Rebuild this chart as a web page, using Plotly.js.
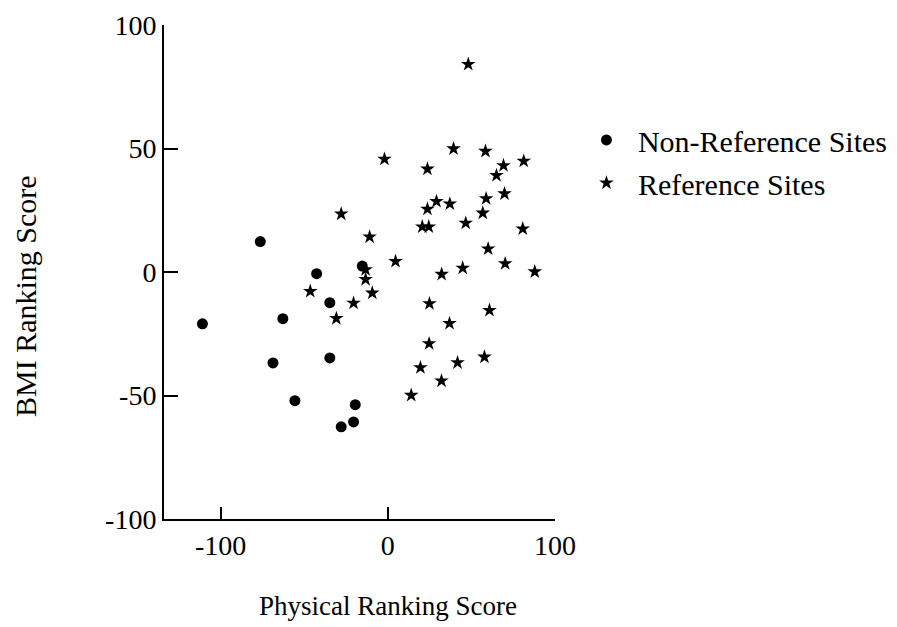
<!DOCTYPE html>
<html>
<head>
<meta charset="utf-8">
<script src="https://cdn.plot.ly/plotly-3.0.1.min.js"></script>
<style>
html,body{margin:0;padding:0;background:#fff;}
#chart{width:897px;height:627px;}
</style>
</head>
<body>
<div id="chart"></div>
<script>
// Non-Reference Sites (circles)
const nonRefX = [-110.9, -76.3, -42.6, -15.3, -34.7, -62.8, -68.7, -34.7, -55.6, -19.5, -20.5, -27.9];
const nonRefY = [-21.0, 12.3, -0.7, 2.4, -12.4, -18.9, -36.8, -34.8, -52.1, -53.7, -60.7, -62.7];

// Reference Sites (stars)
const refX = [-27.9, -10.9, -2.0, 4.6, -13.3, -13.3, -9.3, -46.4, -20.5, -30.8,
              23.7, 29.1, 37.1, 23.7, 20.6, 24.5, 32.2, 48.1, 39.3, 58.4,
              81.3, 69.2, 65.0, 69.8, 58.8, 56.8, 46.6, 80.7, 60.0, 44.8,
              70.2, 87.9, 24.9, 60.8, 36.9, 24.7, 57.8, 41.7, 19.5, 32.1, 14.0];
const refY = [23.5, 14.2, 45.7, 4.3, 1.0, -3.0, -8.5, -7.8, -12.6, -18.8,
              41.7, 28.6, 27.6, 25.5, 18.3, 18.3, -0.9, 84.1, 49.9, 48.9,
              44.9, 43.1, 39.1, 31.7, 29.7, 23.9, 19.8, 17.5, 9.4, 1.6,
              3.4, 0.1, -12.8, -15.5, -20.8, -29.0, -34.4, -36.7, -38.7, -44.1, -49.9];

const seriesNames = ["Non-Reference Sites", "Reference Sites"];
const xTickVals = [-100, 0, 100];
const xTickText = ["-100", "0", "100"];
const yTickVals = [-100, -50, 0, 50, 100];
const yTickText = ["-100", "-50", "0", "50", "100"];
const xTitle = "Physical Ranking Score";
const yTitle = "BMI Ranking Score";

const FONT = "'Liberation Serif', 'Times New Roman', serif";

const traces = [
  {
    x: nonRefX, y: nonRefY, name: seriesNames[0], type: "scatter", mode: "markers",
    legendgroup: "a",
    marker: {symbol: "circle", size: 11, color: "#000"}, cliponaxis: false
  },
  {
    x: refX, y: refY, name: seriesNames[1], type: "scatter", mode: "markers",
    legendgroup: "b",
    marker: {symbol: "star", size: 11, color: "#000"}, cliponaxis: false
  }
];

const axisCommon = {
  showgrid: false, zeroline: false, showline: true, linecolor: "#000", linewidth: 2,
  ticks: "inside", tickcolor: "#000", tickwidth: 2,
  tickfont: {family: FONT, size: 28, color: "#000"},
  tickmode: "array", fixedrange: true
};

const layout = {
  width: 897, height: 627,
  margin: {l: 164, r: 342, t: 25, b: 108, autoexpand: false},
  paper_bgcolor: "#fff", plot_bgcolor: "#fff",
  font: {family: FONT, color: "#000"},
  showlegend: true,
  legend: {
    x: 1.051, xanchor: "left", y: 0.82, yanchor: "top",
    font: {family: FONT, size: 30, color: "#000"},
    itemwidth: 53, tracegroupgap: 1, bgcolor: "rgba(0,0,0,0)"
  },
  xaxis: Object.assign({}, axisCommon, {
    range: [-133.9, 100], tickvals: xTickVals, ticktext: xTickText,
    ticklen: 12, ticklabelstandoff: 0
  }),
  yaxis: Object.assign({}, axisCommon, {
    range: [-100, 100], tickvals: yTickVals, ticktext: yTickText,
    ticklen: 14, ticklabelstandoff: 0
  }),
  annotations: [
    {text: xTitle, xref: "paper", yref: "paper", x: (388 - 164) / 391, y: (519 - 606) / 494,
     xanchor: "center", yanchor: "middle", showarrow: false,
     font: {family: FONT, size: 27, color: "#000"}},
    {text: yTitle, xref: "paper", yref: "paper", x: (25 - 164) / 391, y: (519 - 296) / 494,
     xanchor: "center", yanchor: "middle", showarrow: false, textangle: -90,
     font: {family: FONT, size: 30, color: "#000"}}
  ]
};

Plotly.newPlot("chart", traces, layout, {displayModeBar: false, staticPlot: true});
</script>
</body>
</html>
